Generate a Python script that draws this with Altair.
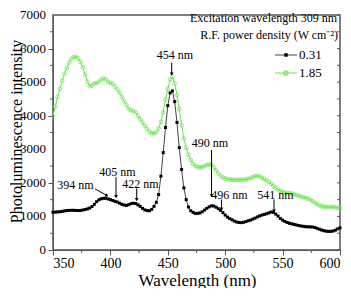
import altair as alt
import pandas as pd

FONT = "Liberation Serif, serif"
GREEN = "#66E64D"

wavelength = list(range(350, 601, 2))

# 0.31 W cm^-2 (black squares)
i_031 = [1124, 1130, 1135, 1140, 1150, 1165, 1175, 1180, 1182, 1182,
         1178, 1175, 1178, 1190, 1205, 1225, 1250, 1295, 1360, 1440,
         1495, 1525, 1540, 1538, 1520, 1500, 1475, 1450, 1430, 1395,
         1360, 1340, 1330, 1350, 1380, 1392, 1385, 1345, 1300, 1240,
         1195, 1175, 1170, 1210, 1300, 1420, 1650, 2200, 2900, 3650,
         4300, 4680, 4740, 4420, 3800, 3050, 2400, 1850, 1500, 1280,
         1170, 1120, 1090, 1090, 1105, 1140, 1190, 1240, 1285, 1315,
         1310, 1275, 1230, 1180, 1110, 1040, 980, 935, 900, 860,
         835, 820, 815, 825, 845, 870, 890, 920, 950, 985,
         1015, 1040, 1060, 1080, 1105, 1130, 1120, 1070, 1010, 940,
         890, 850, 820, 795, 780, 760, 745, 730, 715, 705,
         695, 690, 690, 685, 670, 645, 620, 595, 575, 560,
         555, 555, 565, 590, 630, 660]

# 1.85 W cm^-2 (green open circles)
i_185 = [4000, 4270, 4560, 4800, 5040, 5250, 5420, 5580, 5690, 5750,
         5760, 5710, 5600, 5440, 5230, 5020, 4880, 4900, 4960, 4970,
         5010, 5080, 5110, 5080, 5010, 4980, 4950, 4870, 4780, 4680,
         4560, 4430, 4320, 4200, 4160, 4140, 4100, 4000, 3900, 3800,
         3700, 3610, 3520, 3480, 3470, 3500, 3620, 3820, 4100, 4480,
         4800, 5080, 5150, 4960, 4620, 4200, 3720, 3320, 3050, 2840,
         2680, 2560, 2500, 2470, 2460, 2470, 2500, 2530, 2550, 2530,
         2460, 2370, 2280, 2210, 2160, 2130, 2110, 2100, 2095, 2090,
         2090, 2090, 2090, 2095, 2100, 2120, 2140, 2170, 2200, 2210,
         2190, 2150, 2110, 2070, 2020, 1970, 1910, 1850, 1800, 1760,
         1730, 1710, 1700, 1690, 1680, 1660, 1640, 1610, 1590, 1570,
         1550, 1530, 1500, 1460, 1410, 1370, 1330, 1300, 1290, 1280,
         1280, 1280, 1280, 1270, 1260, 1240]

series_names = ["0.31", "1.85"]
legend_lines = ["Excitation wavelength 309 nm", "R.F. power density (W cm\u207b\u00b2)"]

x_major = [350, 400, 450, 500, 550, 600]
x_minor = [375, 425, 475, 525, 575]
y_major = [0, 1000, 2000, 3000, 4000, 5000, 6000, 7000]
y_minor = [500, 1500, 2500, 3500, 4500, 5500, 6500]

# annotations (data coordinates)
ann_text = ["454 nm", "490 nm", "496 nm", "541 nm", "394 nm", "405 nm", "422 nm"]
ann_tx = [456.3, 486.8, 503.7, 543.8, 369.6, 406.2, 426.2]
ann_ty = [5814, 3182, 1640, 1640, 1929, 2334, 1976]
arr_x1 = [453.4, 488.1, 496.8, 542.5, 386.6, 404.9, 422.9]
arr_y1 = [5583, 2979, 1504, 1504, 1822, 2169, 1837]
arr_x2 = [453.4, 488.1, 496.8, 542.5, 397.0, 404.9, 422.9]
arr_y2 = [5236, 1620, 1215, 1157, 1620, 1591, 1504]
arr_angle = [0, 0, 0, 0, 300, 0, 0]

df = pd.DataFrame({
    "wl": wavelength * 2,
    "intensity": i_031 + i_185,
    "series": [series_names[0]] * len(i_031) + [series_names[1]] * len(i_185),
})
ann = pd.DataFrame({"text": ann_text, "tx": ann_tx, "ty": ann_ty})
arr = pd.DataFrame({"x1": arr_x1, "y1": arr_y1, "x2": arr_x2, "y2": arr_y2, "ang": arr_angle})
one = pd.DataFrame({"k": [0]})
xmin_df = pd.DataFrame({"wl": x_minor})
ymaj_df = pd.DataFrame({"intensity": y_major, "lab": [str(v) for v in y_major]})
ymin_df = pd.DataFrame({"intensity": y_minor})
yall_df = pd.DataFrame({"intensity": y_major + y_minor})

W, H = 287, 235

xscale = alt.Scale(domain=[350, 600], nice=False)
yscale = alt.Scale(domain=[0, 7000], nice=False)

AX = "#555"
xaxis = alt.Axis(
    values=x_major, tickSize=5, labelOverlap=False, grid=False,
    labelFont=FONT, labelFontSize=14, labelColor="black", labelPadding=1,
    domainColor=AX, tickColor=AX,
    title="Wavelength (nm)", titleFont=FONT, titleFontSize=17, titleFontWeight="normal",
    titleColor="black", titleX=144, titleY=30, titleBaseline="middle", titleAlign="center",
)
yaxis = alt.Axis(
    values=y_major, tickSize=5, labels=False, grid=False,
    domainColor=AX, tickColor=AX,
    title="Photoluminescence intensity", titleFont=FONT, titleFontSize=16,
    titleFontWeight="normal", titleColor="black", titleX=-37, titleY=116,
    titleAngle=270, titleBaseline="middle", titleAlign="center",
)

X = alt.X("wl:Q", scale=xscale, axis=xaxis)
Y = alt.Y("intensity:Q", scale=yscale, axis=yaxis)

base = alt.Chart(df)
green = base.transform_filter(alt.datum.series == "1.85")
black = base.transform_filter(alt.datum.series == "0.31")

g_line = green.mark_line(color=GREEN, strokeWidth=1).encode(x=X, y=Y)
g_pts = green.mark_point(shape="circle", filled=False, color=GREEN, size=14, strokeWidth=1).encode(x="wl:Q", y="intensity:Q")
b_line = black.mark_line(color="#444", strokeWidth=1).encode(x="wl:Q", y="intensity:Q")
b_pts = black.mark_square(color="black", size=9, opacity=1).encode(x="wl:Q", y="intensity:Q")

# y tick labels, minor ticks and inward ticks on the right frame
ylabels = alt.Chart(ymaj_df).mark_text(font=FONT, fontSize=13, color="black", align="right", baseline="middle").encode(
    y="intensity:Q", x=alt.value(-7), text="lab:N")
xminor = alt.Chart(xmin_df).mark_rule(color=AX, strokeWidth=1).encode(
    x="wl:Q", y=alt.value(H), y2=alt.value(H + 3))
yminor = alt.Chart(ymin_df).mark_rule(color=AX, strokeWidth=1).encode(
    y="intensity:Q", x=alt.value(-3), x2=alt.value(0))
yright = alt.Chart(yall_df).mark_rule(color=AX, strokeWidth=1).encode(
    y="intensity:Q", x=alt.value(W - 3), x2=alt.value(W))

labels = alt.Chart(ann).mark_text(font=FONT, fontSize=12, color="black", baseline="middle", align="center").encode(
    x="tx:Q", y="ty:Q", text="text:N")
shafts = alt.Chart(arr).mark_rule(color="black", strokeWidth=1).encode(
    x="x1:Q", y="y1:Q", x2="x2:Q", y2="y2:Q")
heads = alt.Chart(arr).mark_point(shape="triangle-down", filled=True, color="black", size=14, opacity=1).encode(
    x="x2:Q", y="y2:Q", angle=alt.Angle("ang:Q", scale=None))

# legend block (pixel positions within the plot area)
oc = alt.Chart(one)
leg_t1 = oc.mark_text(font=FONT, fontSize=12, color="black", align="right", baseline="middle", text=legend_lines[0]).encode(
    x=alt.value(284), y=alt.value(3))
leg_t2 = oc.mark_text(font=FONT, fontSize=12, color="black", align="right", baseline="middle", text=legend_lines[1]).encode(
    x=alt.value(285), y=alt.value(20))
lb_line = oc.mark_rule(color="#444", strokeWidth=1).encode(x=alt.value(222), x2=alt.value(244), y=alt.value(40))
lg_line = oc.mark_rule(color=GREEN, strokeWidth=1).encode(x=alt.value(222), x2=alt.value(244), y=alt.value(58))
lb_pt = oc.mark_square(color="black", size=12, opacity=1).encode(x=alt.value(233), y=alt.value(40))
lg_pt = oc.mark_point(shape="circle", filled=False, color=GREEN, size=14).encode(x=alt.value(233), y=alt.value(58))
lb_txt = oc.mark_text(font=FONT, fontSize=13, color="black", align="left", baseline="middle", text=series_names[0]).encode(
    x=alt.value(246), y=alt.value(40))
lg_txt = oc.mark_text(font=FONT, fontSize=13, color="black", align="left", baseline="middle", text=series_names[1]).encode(
    x=alt.value(246), y=alt.value(58))

chart = alt.layer(
    g_line, g_pts, b_line, b_pts, ylabels, xminor, yminor, yright, labels, shafts, heads,
    leg_t1, leg_t2, lb_line, lg_line, lb_pt, lg_pt, lb_txt, lg_txt,
).properties(
    width=W, height=H,
    autosize=alt.AutoSizeParams(type="none"),
    padding={"left": 45, "top": 7, "right": 3, "bottom": 38},
    background="white",
).configure_view(stroke="#555", strokeWidth=1.5)

chart.save("out.html", embed_options={"renderer": "svg", "actions": False})
